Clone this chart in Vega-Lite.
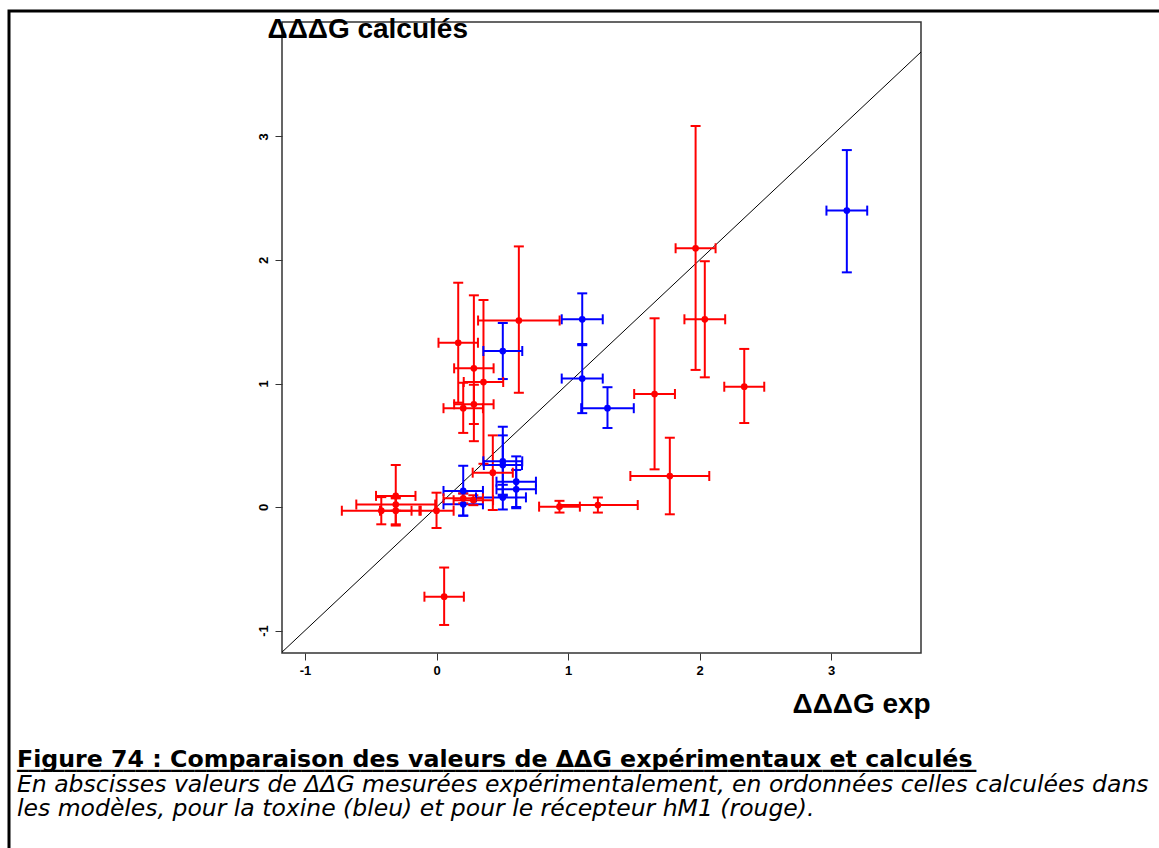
{
  "$schema": "https://vega.github.io/schema/vega-lite/v6.json",
  "autosize": {"type": "none"},
  "width": 639,
  "height": 631,
  "padding": {"left": 282, "top": 22, "right": 238, "bottom": 195},
  "background": "white",
  "config": {
    "view": {"stroke": "#333", "strokeWidth": 1.5},
    "legend": {"strokeWidth": 3, "strokeColor": "black"},
    "axis": {"grid": false, "domain": false, "tickColor": "#333", "tickWidth": 1, "tickSize": 7,
             "labelFont": "Liberation Sans", "labelFontWeight": "bold", "labelFontSize": 13, "labelColor": "black",
             "titleFont": "Liberation Sans", "titleFontWeight": "bold", "titleFontSize": 28, "titleColor": "black"}
  },
  "title": {
    "text": ["Figure 74 : Comparaison des valeurs de ΔΔG expérimentaux et calculés", "_________________________________________________________________________________"],
    "subtitle": ["\u00a0", "\u00a0", "\u00a0En abscisses valeurs de ΔΔG mesurées expérimentalement, en ordonnées celles calculées dans", "\u00a0les modèles, pour la toxine (bleu) et pour le récepteur hM1 (rouge)."],
    "orient": "none", "anchor": "start", "frame": "group", "dx": -265, "dy": 745, "baseline": "alphabetic",
    "font": "DejaVu Sans", "fontSize": 23.7, "fontWeight": "bold", "lineHeight": 0, "color": "black",
    "subtitleFont": "DejaVu Sans", "subtitleFontSize": 23.5, "subtitleFontStyle": "italic", "subtitleFontWeight": "normal",
    "subtitleColor": "black", "subtitleLineHeight": 24.5, "subtitlePadding": 0
  },
  "datasets": {
    "pts": [
      {"s": "toxine", "x": 3.12, "y": 2.40, "xlo": 2.965, "xhi": 3.275, "ylo": 1.90, "yhi": 2.89},
      {"s": "toxine", "x": 1.108, "y": 1.52, "xlo": 0.952, "xhi": 1.264, "ylo": 1.31, "yhi": 1.73},
      {"s": "toxine", "x": 1.108, "y": 1.04, "xlo": 0.952, "xhi": 1.264, "ylo": 0.76, "yhi": 1.32},
      {"s": "toxine", "x": 1.30, "y": 0.80, "xlo": 1.10, "xhi": 1.50, "ylo": 0.64, "yhi": 0.97},
      {"s": "toxine", "x": 0.504, "y": 1.263, "xlo": 0.356, "xhi": 0.652, "ylo": 1.036, "yhi": 1.49},
      {"s": "toxine", "x": 0.504, "y": 0.37, "xlo": 0.356, "xhi": 0.652, "ylo": 0.09, "yhi": 0.65},
      {"s": "toxine", "x": 0.504, "y": 0.34, "xlo": 0.36, "xhi": 0.65, "ylo": 0.10, "yhi": 0.58},
      {"s": "toxine", "x": 0.606, "y": 0.205, "xlo": 0.456, "xhi": 0.756, "ylo": 0.0, "yhi": 0.41},
      {"s": "toxine", "x": 0.606, "y": 0.143, "xlo": 0.456, "xhi": 0.756, "ylo": -0.01, "yhi": 0.30},
      {"s": "toxine", "x": 0.504, "y": 0.078, "xlo": 0.30, "xhi": 0.68, "ylo": -0.02, "yhi": 0.18},
      {"s": "toxine", "x": 0.203, "y": 0.13, "xlo": 0.053, "xhi": 0.353, "ylo": -0.07, "yhi": 0.334},
      {"s": "toxine", "x": 0.203, "y": 0.022, "xlo": 0.053, "xhi": 0.353, "ylo": -0.07, "yhi": 0.11},
      {"s": "recepteur", "x": 0.165, "y": 1.33, "xlo": 0.015, "xhi": 0.315, "ylo": 0.845, "yhi": 1.816},
      {"s": "recepteur", "x": 0.284, "y": 1.123, "xlo": 0.134, "xhi": 0.434, "ylo": 0.533, "yhi": 1.714},
      {"s": "recepteur", "x": 0.357, "y": 1.012, "xlo": 0.207, "xhi": 0.507, "ylo": 0.35, "yhi": 1.676},
      {"s": "recepteur", "x": 0.284, "y": 0.832, "xlo": 0.134, "xhi": 0.434, "ylo": 0.672, "yhi": 0.99},
      {"s": "recepteur", "x": 0.203, "y": 0.80, "xlo": 0.053, "xhi": 0.353, "ylo": 0.60, "yhi": 1.006},
      {"s": "recepteur", "x": 0.626, "y": 1.51, "xlo": 0.316, "xhi": 0.936, "ylo": 0.925, "yhi": 2.11},
      {"s": "recepteur", "x": 0.428, "y": 0.278, "xlo": 0.275, "xhi": 0.58, "ylo": -0.024, "yhi": 0.58},
      {"s": "recepteur", "x": 1.97, "y": 2.095, "xlo": 1.818, "xhi": 2.122, "ylo": 1.11, "yhi": 3.085},
      {"s": "recepteur", "x": 2.04, "y": 1.52, "xlo": 1.885, "xhi": 2.195, "ylo": 1.05, "yhi": 1.99},
      {"s": "recepteur", "x": 2.34, "y": 0.974, "xlo": 2.188, "xhi": 2.492, "ylo": 0.68, "yhi": 1.28},
      {"s": "recepteur", "x": 1.658, "y": 0.915, "xlo": 1.503, "xhi": 1.813, "ylo": 0.305, "yhi": 1.528},
      {"s": "recepteur", "x": 1.774, "y": 0.251, "xlo": 1.474, "xhi": 2.074, "ylo": -0.059, "yhi": 0.561},
      {"s": "recepteur", "x": 0.935, "y": 0.003, "xlo": 0.78, "xhi": 1.09, "ylo": -0.045, "yhi": 0.05},
      {"s": "recepteur", "x": 1.227, "y": 0.016, "xlo": 0.93, "xhi": 1.53, "ylo": -0.045, "yhi": 0.077},
      {"s": "recepteur", "x": 0.058, "y": -0.726, "xlo": -0.092, "xhi": 0.208, "ylo": -0.955, "yhi": -0.49},
      {"s": "recepteur", "x": 0.203, "y": 0.07, "xlo": 0.053, "xhi": 0.353, "ylo": 0.03, "yhi": 0.11},
      {"s": "recepteur", "x": 0.28, "y": 0.055, "xlo": 0.13, "xhi": 0.43, "ylo": 0.015, "yhi": 0.095},
      {"s": "recepteur", "x": -0.42, "y": -0.03, "xlo": -0.72, "xhi": -0.12, "ylo": -0.14, "yhi": 0.08},
      {"s": "recepteur", "x": -0.31, "y": -0.03, "xlo": -0.43, "xhi": -0.19, "ylo": -0.14, "yhi": 0.08},
      {"s": "recepteur", "x": -0.31, "y": 0.02, "xlo": -0.61, "xhi": -0.01, "ylo": -0.03, "yhi": 0.07},
      {"s": "recepteur", "x": -0.31, "y": 0.09, "xlo": -0.46, "xhi": -0.16, "ylo": -0.15, "yhi": 0.34},
      {"s": "recepteur", "x": 0.0, "y": -0.03, "xlo": -0.13, "xhi": 0.13, "ylo": -0.17, "yhi": 0.116}
    ],
    "diag": [{"d": -1.175}, {"d": 3.684}]
  },
  "layer": [
    {
      "data": {"name": "diag"},
      "mark": {"type": "line", "color": "black", "strokeWidth": 1, "clip": true},
      "encoding": {
        "x": {"field": "d", "type": "quantitative", "scale": {"domain": [-1.175, 3.684], "nice": false, "zero": false},
              "axis": {"values": [-1, 0, 1, 2, 3], "labelExpr": "'' + datum.value", "title": "ΔΔΔG exp", "titleAlign": "left", "titleBaseline": "alphabetic",
                       "titleX": 510, "titleY": 59, "labelPadding": 4, "labelFlush": false}},
        "y": {"field": "d", "type": "quantitative", "scale": {"domain": [-1.182, 3.927], "nice": false, "zero": false},
              "axis": {"values": [-1, 0, 1, 2, 3], "labelExpr": "'' + datum.value", "title": "ΔΔΔG calculés", "titleAngle": 0, "titleAlign": "left", "titleBaseline": "alphabetic",
                       "titleX": -15, "titleY": 15, "labelAngle": 270, "labelPadding": 5, "labelFlush": false}}
      }
    },
    {
      "data": {"name": "pts"},
      "mark": {"type": "rule", "strokeWidth": 2},
      "encoding": {
        "x": {"field": "x", "type": "quantitative"},
        "y": {"field": "ylo", "type": "quantitative"},
        "y2": {"field": "yhi"},
        "color": {"field": "s", "type": "nominal", "scale": {"domain": ["toxine", "recepteur"], "range": ["#0000ff", "#ff0000"]},
                  "legend": {"orient": "none", "legendX": -273, "legendY": -11, "strokeColor": "black",
                             "padding": 3000, "title": null, "labelOpacity": 0, "symbolOpacity": 0}}
      }
    },
    {
      "data": {"name": "pts"},
      "mark": {"type": "rule", "strokeWidth": 2},
      "encoding": {
        "y": {"field": "y", "type": "quantitative"},
        "x": {"field": "xlo", "type": "quantitative"},
        "x2": {"field": "xhi"},
        "color": {"field": "s", "type": "nominal", "legend": null}
      }
    },
    {
      "data": {"name": "pts"},
      "mark": {"type": "tick", "orient": "horizontal", "size": 10, "thickness": 2, "opacity": 1},
      "encoding": {
        "x": {"field": "x", "type": "quantitative"},
        "y": {"field": "ylo", "type": "quantitative"},
        "color": {"field": "s", "type": "nominal", "legend": null}
      }
    },
    {
      "data": {"name": "pts"},
      "mark": {"type": "tick", "orient": "horizontal", "size": 10, "thickness": 2, "opacity": 1},
      "encoding": {
        "x": {"field": "x", "type": "quantitative"},
        "y": {"field": "yhi", "type": "quantitative"},
        "color": {"field": "s", "type": "nominal", "legend": null}
      }
    },
    {
      "data": {"name": "pts"},
      "mark": {"type": "tick", "orient": "vertical", "size": 10, "thickness": 2, "opacity": 1},
      "encoding": {
        "x": {"field": "xlo", "type": "quantitative"},
        "y": {"field": "y", "type": "quantitative"},
        "color": {"field": "s", "type": "nominal", "legend": null}
      }
    },
    {
      "data": {"name": "pts"},
      "mark": {"type": "tick", "orient": "vertical", "size": 10, "thickness": 2, "opacity": 1},
      "encoding": {
        "x": {"field": "xhi", "type": "quantitative"},
        "y": {"field": "y", "type": "quantitative"},
        "color": {"field": "s", "type": "nominal", "legend": null}
      }
    },
    {
      "data": {"name": "pts"},
      "mark": {"type": "circle", "size": 45, "opacity": 1},
      "encoding": {
        "x": {"field": "x", "type": "quantitative"},
        "y": {"field": "y", "type": "quantitative"},
        "color": {"field": "s", "type": "nominal", "legend": null}
      }
    }
  ]
}
